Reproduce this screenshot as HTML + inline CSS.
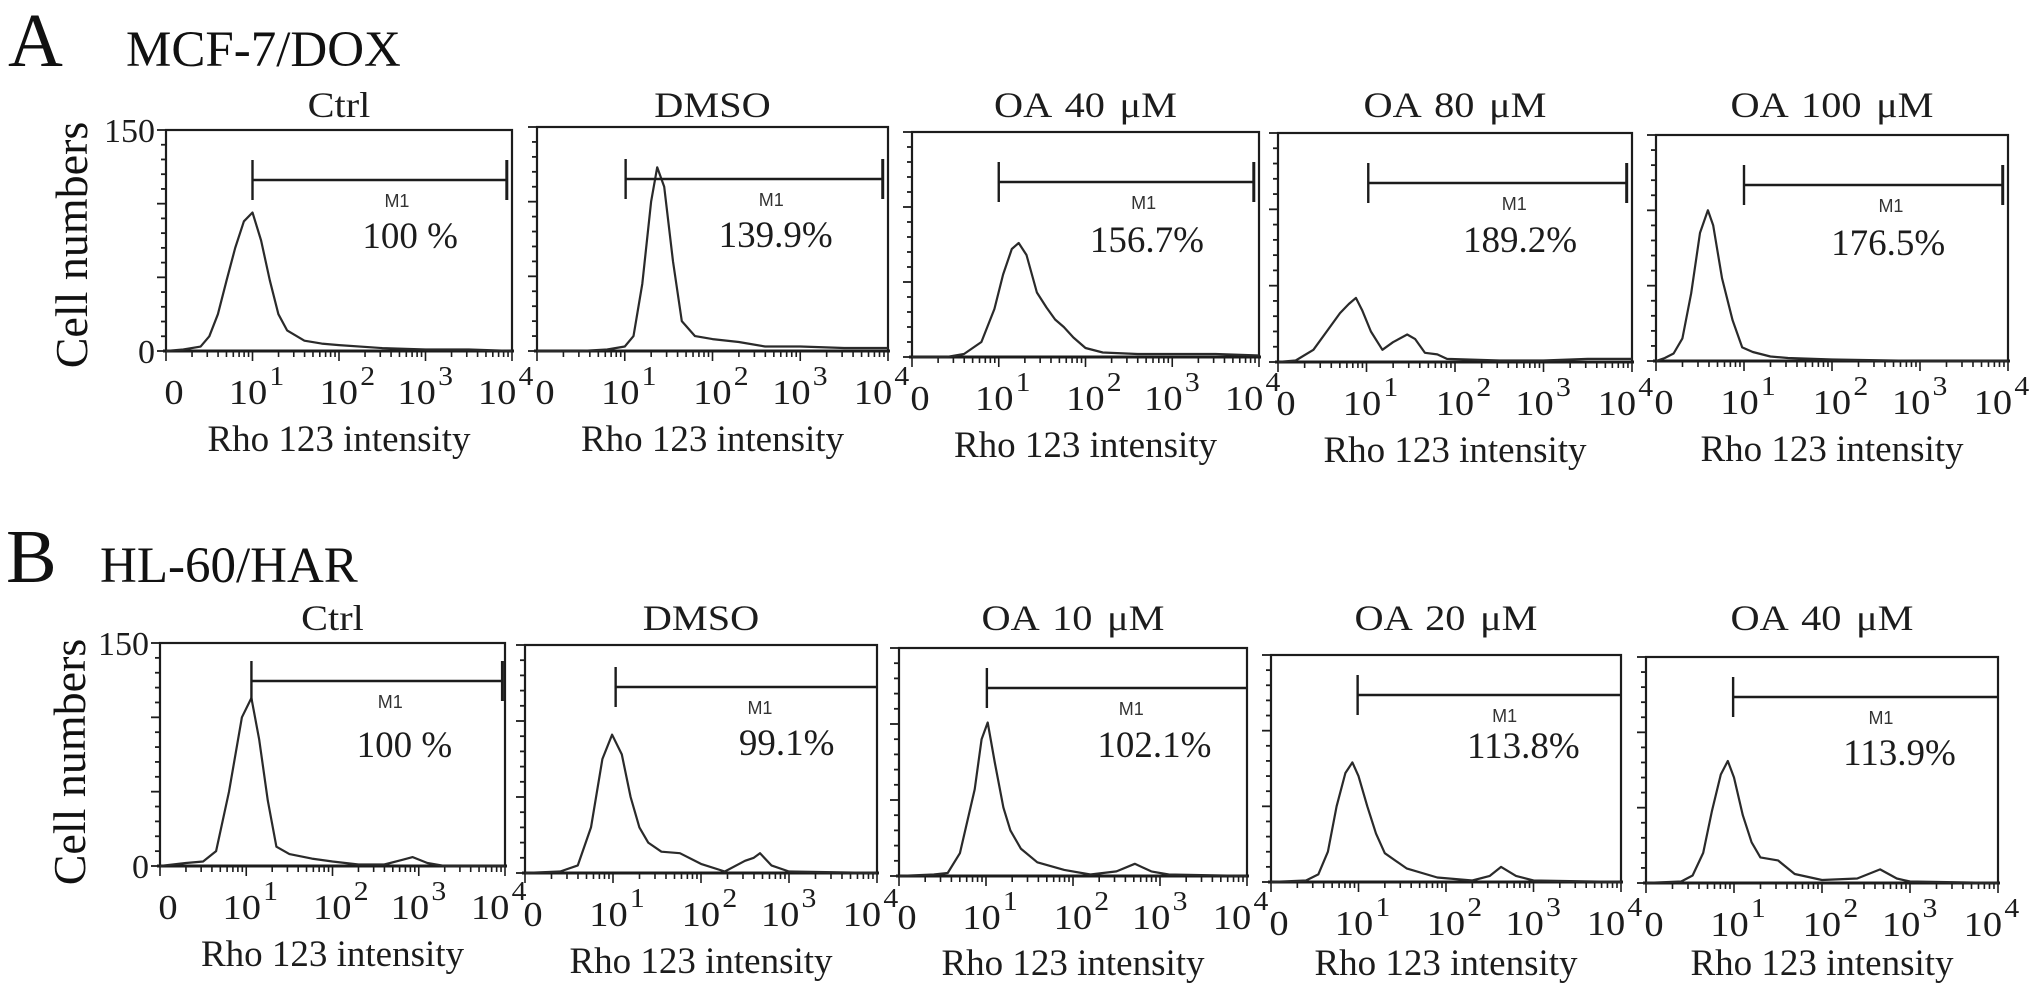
<!DOCTYPE html>
<html><head><meta charset="utf-8"><style>
html,body{margin:0;padding:0;background:#fff;}
svg{display:block;font-family:"Liberation Serif",serif;}
</style></head><body>
<svg id="fig" width="2031" height="993" viewBox="0 0 2031 993" xmlns="http://www.w3.org/2000/svg">
<rect width="2031" height="993" fill="#fff"/>
<text x="8" y="66" font-size="76" fill="#111">A</text>
<text x="126" y="66" font-size="51" fill="#111">MCF-7/DOX</text>
<text x="6" y="582" font-size="76" fill="#111">B</text>
<text x="100" y="582" font-size="51" fill="#111">HL-60/HAR</text>
<text transform="translate(87,245) rotate(-90)" text-anchor="middle" font-size="46" fill="#111">Cell numbers</text>
<text transform="translate(85,762) rotate(-90)" text-anchor="middle" font-size="46" fill="#111">Cell numbers</text>
</svg>
<script>
// ---- data ----
const titles=["Ctrl","DMSO","OA 40 \u03bcM","OA 80 \u03bcM","OA 100 \u03bcM","Ctrl","DMSO","OA 10 \u03bcM","OA 20 \u03bcM","OA 40 \u03bcM"];
const pctLabels=["100 %","139.9%","156.7%","189.2%","176.5%","100 %","99.1%","102.1%","113.8%","113.9%"];
const gateStart=[1.0,1.01,1.0,1.02,1.0,1.06,1.03,1.01,0.99,0.99];
const gateEnd=[3.94,3.94,3.94,3.94,3.94,3.97,4,4,4,4];
const yTickLabels=["0","150"];
const yMax=150;
const xDecades=[1,2,3,4];

const aCtrlX=[0,0.2,0.4,0.5,0.6,0.7,0.8,0.9,1.0,1.1,1.2,1.3,1.4,1.6,1.8,2.0,2.5,3.0,3.5,4.0];
const aCtrlY=[0,1,3,10,25,48,70,88,94,75,48,25,14,7,5,4,2,1,1,0];
const aDmsoX=[0,0.5,0.8,1.0,1.1,1.2,1.3,1.37,1.45,1.55,1.65,1.8,2.0,2.3,2.6,3.0,3.5,4.0];
const aDmsoY=[0,0,1,3,10,45,100,123,110,60,20,10,8,6,3,3,2,2];
const aOa40X=[0,0.4,0.6,0.8,0.95,1.05,1.15,1.23,1.32,1.44,1.55,1.65,1.75,1.86,2.0,2.2,2.6,3.0,3.5,4.0];
const aOa40Y=[0,0,2,10,32,55,72,76,68,43,33,25,20,13,6,3,2,2,2,1];
const aOa80X=[0,0.2,0.4,0.55,0.7,0.8,0.88,0.95,1.05,1.18,1.3,1.46,1.55,1.66,1.8,1.91,2.5,3.0,3.5,4.0];
const aOa80Y=[0,1,8,20,32,38,42,34,20,8,13,18,15,6,5,2,1,1,2,2];
const aOa100X=[0,0.1,0.2,0.3,0.4,0.5,0.59,0.65,0.75,0.87,0.98,1.1,1.3,1.5,2.0,3.0,4.0];
const aOa100Y=[0,2,5,15,45,85,100,90,55,27,9,6,3,2,1,0,0];
const bCtrlX=[0,0.3,0.5,0.65,0.8,0.95,1.06,1.15,1.25,1.35,1.5,1.76,2.0,2.3,2.6,2.8,2.93,3.1,3.3,4.0];
const bCtrlY=[0,2,3,10,50,100,113,85,44,13,8,5,3,1,1,4,6,2,0,0];
const bDmsoX=[0,0.4,0.6,0.75,0.88,0.99,1.1,1.2,1.3,1.4,1.55,1.76,2.0,2.27,2.5,2.6,2.67,2.8,3.0,4.0];
const bDmsoY=[0,1,5,30,75,91,78,50,30,20,14,13,6,1,8,10,13,5,1,0];
const bOa10X=[0,0.4,0.56,0.7,0.87,0.95,1.02,1.1,1.2,1.28,1.4,1.59,1.9,2.2,2.5,2.71,2.9,3.1,4.0];
const bOa10Y=[0,1,2,15,57,90,101,75,45,30,18,9,4,1,3,8,3,1,0];
const bOa20X=[0,0.4,0.54,0.65,0.75,0.85,0.93,1.0,1.1,1.2,1.3,1.55,1.9,2.3,2.5,2.63,2.8,3.0,4.0];
const bOa20Y=[0,1,5,20,50,72,79,70,50,32,19,9,3,1,4,10,4,1,0];
const bOa40X=[0,0.4,0.53,0.65,0.75,0.85,0.93,1.0,1.1,1.2,1.3,1.5,1.69,2.0,2.4,2.66,2.85,3.0,4.0];
const bOa40Y=[0,1,5,20,48,72,81,70,45,27,17,15,6,2,3,9,3,1,0];
const seriesX=[aCtrlX,aDmsoX,aOa40X,aOa80X,aOa100X,bCtrlX,bDmsoX,bOa10X,bOa20X,bOa40X];
const seriesY=[aCtrlY,aDmsoY,aOa40Y,aOa80Y,aOa100Y,bCtrlY,bDmsoY,bOa10Y,bOa20Y,bOa40Y];

// ---- layout ----
const boxes=[[166,512,130,351],[537,888,127,351],[912,1259,132,357],[1278,1632,133,362],[1656,2008,135,361],
             [160,505,643,866],[525,877,645,873],[899,1247,648,876],[1271,1621,655,882],[1646,1998,657,883]];
const pctPos=[2.27,2.07,2.05,2.09,1.99,2.28,2.43,2.28,2.24,2.24];
const pctOff=[118,120,120,119,120,114,110,109,103,108];
const barOff=[50,52,50,50,50,38,42,40,40,40];
const panelNames=["a-ctrl","a-dmso","a-oa40","a-oa80","a-oa100","b-ctrl","b-dmso","b-oa10","b-oa20","b-oa40"];

const NS="http://www.w3.org/2000/svg";
const svg=document.getElementById("fig");
function mk(tag,attrs,parent){const e=document.createElementNS(NS,tag);for(const k in attrs)e.setAttribute(k,attrs[k]);(parent||svg).appendChild(e);return e;}
const ink="#1c1c1c";

boxes.forEach((b,i)=>{
  const [L,R,T,Z]=b;
  const W=R-L, H=Z-T;
  const xs=v=>L+v*W/4;
  const ys=c=>Z-c*H/yMax;
  const g=mk("g",{});
  
  
  const row=i<5?0:1;
  const t=mk("text",{transform:"translate("+((L+R)/2)+","+(row?630:117)+") scale(1.12,1)","text-anchor":"middle","font-size":36,"word-spacing":4,fill:ink},g);
  t.textContent=titles[i];
  
  
  const fr=mk("rect",{x:L,y:T,width:W,height:H,fill:"none",stroke:ink,"stroke-width":2.2},g);
  
  
  mk("line",{x1:L-3,y1:Z,x2:R+2,y2:Z,stroke:ink,"stroke-width":3},g);
  for(let c=0;c<=yMax;c+=10){
    const len=(c%50===0)?9:5;
    mk("line",{x1:L-len,y1:ys(c),x2:L,y2:ys(c),stroke:ink,"stroke-width":1.8},g);
  }
  for(let d=0;d<4;d++){
    for(let m=1;m<10;m++){
      const v=d+Math.log10(m);
      mk("line",{x1:xs(v),y1:Z,x2:xs(v),y2:Z+(m===1?10:6),stroke:ink,"stroke-width":1.6},g);
    }
  }
  mk("line",{x1:R,y1:Z,x2:R,y2:Z+10,stroke:ink,"stroke-width":1.6},g);
  if(i===0||i===5){
    yTickLabels.forEach((lab,k)=>{
      const e=mk("text",{transform:"translate("+(L-11)+","+((k===0?ys(0):ys(yMax))+12)+")","text-anchor":"end","font-size":34,fill:ink},g);
      e.textContent=lab;
      
      
    });
  }
  const lb=Z+53;
  const z=mk("text",{transform:"translate("+(L+8)+","+lb+") scale(1.1,1)","text-anchor":"middle","font-size":35,fill:ink},g);
  z.textContent="0";
  
  
  const shift=[0,0.05,-0.05,-0.12];
  xDecades.forEach((d,k)=>{
    const e=mk("text",{transform:"translate("+(xs(d+shift[k])+4)+","+lb+") scale(1.1,1)","text-anchor":"middle","font-size":35,fill:ink},g);
    
    
    e.appendChild(document.createTextNode("10"));
    const s=mk("tspan",{dy:-19,dx:2,"font-size":27},e);
    s.textContent=String(d);
  });
  const rl=mk("text",{x:(L+R)/2,y:Math.min(Z+100,975),"text-anchor":"middle","font-size":37,fill:ink},g);
  rl.textContent="Rho 123 intensity";
  
  
  const X=seriesX[i], Y=seriesY[i];
  const pts=X.map((v,k)=>xs(v).toFixed(1)+","+ys(Y[k]).toFixed(1)).join(" ");
  const pl=mk("polyline",{points:pts,fill:"none",stroke:"#2a2a2a","stroke-width":2.2,"stroke-linejoin":"round"},g);
  
  
  const by=T+barOff[i];
  const gx1=xs(gateStart[i]), gx2=xs(gateEnd[i]);
  const gate=mk("g",{},g);
  
  
  mk("line",{x1:gx1,y1:by,x2:gx2,y2:by,stroke:ink,"stroke-width":2.6},gate);
  mk("line",{x1:gx1,y1:by-20,x2:gx1,y2:by+20,stroke:ink,"stroke-width":2.4},gate);
  if(gateEnd[i]<4) mk("line",{x1:gx2,y1:by-20,x2:gx2,y2:by+20,stroke:ink,"stroke-width":3},gate);
  const m1=mk("text",{x:xs(2.67),y:by+27,"text-anchor":"middle","font-size":18,"font-family":"Liberation Sans, sans-serif",fill:"#333"},g);
  m1.textContent="M1";
  
  
  const pc=mk("text",{x:xs(pctPos[i]),y:T+pctOff[i],"font-size":37,fill:ink},g);
  pc.textContent=pctLabels[i];
  
  
});
</script>
</body></html>
